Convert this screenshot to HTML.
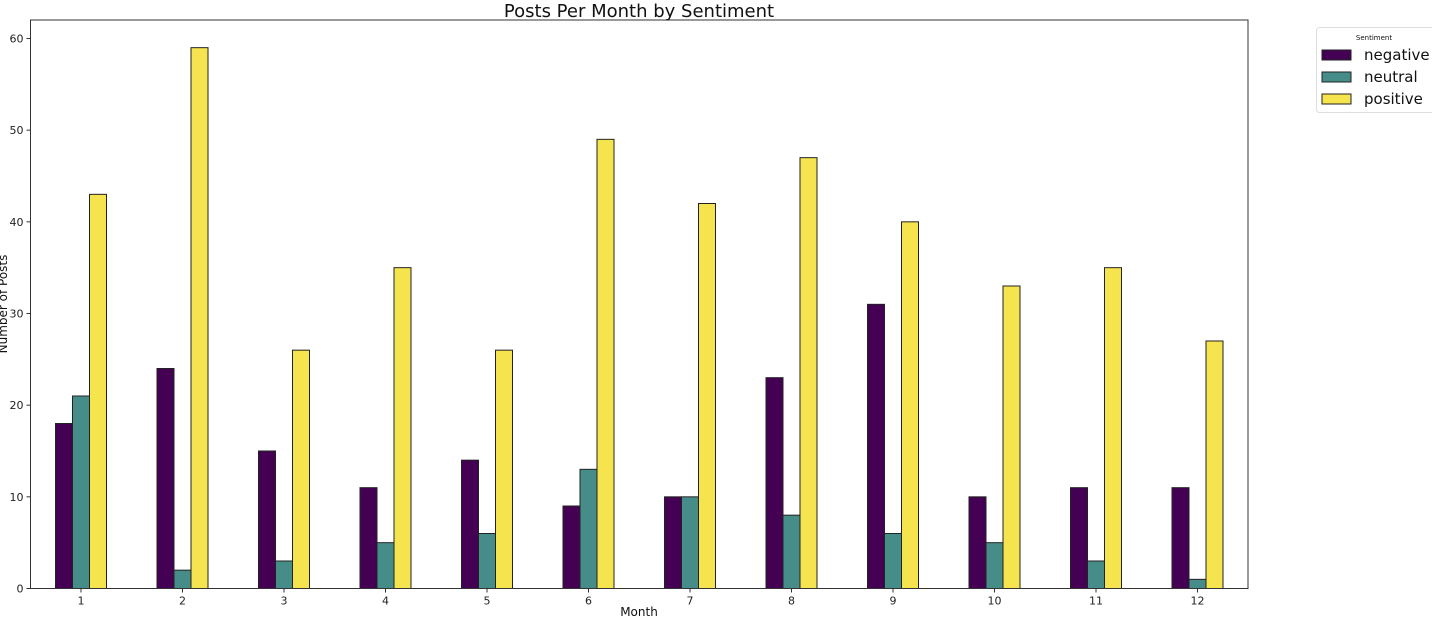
<!DOCTYPE html>
<html><head><meta charset="utf-8"><style>
body{margin:0;background:#fff;font-family:"Liberation Sans","DejaVu Sans",sans-serif}
svg text{font-family:"DejaVu Sans","Liberation Sans",sans-serif}
</style></head><body>
<svg id="c" width="1432" height="621" xmlns="http://www.w3.org/2000/svg"></svg>
<script>
const months=["1","2","3","4","5","6","7","8","9","10","11","12"];
const negative=[18,24,15,11,14,9,10,23,31,10,11,11];
const neutral=[21,2,3,5,6,13,10,8,6,5,3,1];
const positive=[43,59,26,35,26,49,42,47,40,33,35,27];
const yTicks=[0,10,20,30,40,50,60];
const seriesNames=["negative","neutral","positive"];
const colors=["#440154","#468d8a","#f5e44e"];
const L=30.5,R=1248,T=20,B=588.5;
const y=v=>B-v*(550/60);
const x=i=>81+i*101.5;
const bw=17;
const s=document.getElementById('c');
const NS="http://www.w3.org/2000/svg";
function mk(t,a,txt){const e=document.createElementNS(NS,t);for(const k in a)e.setAttribute(k,a[k]);if(txt!==undefined)e.textContent=txt;s.appendChild(e);return e;}
const data=[negative,neutral,positive];
data.forEach((arr,si)=>arr.forEach((v,i)=>{
 const r=mk('rect',{x:x(i)+(si-1)*bw-bw/2,y:y(v),width:bw,height:B-y(v),fill:colors[si],stroke:'#222','stroke-width':1});
 
 
}));
const f=mk('rect',{x:L,y:T,width:R-L,height:B-T,fill:'none',stroke:'#333','stroke-width':1});

yTicks.forEach(t=>{
 mk('line',{x1:L-4,x2:L,y1:y(t),y2:y(t),stroke:'#333'});
 const e=mk('text',{x:L-7,y:y(t)+4,'text-anchor':'end','font-size':11,fill:'#222'},t);
 
});
months.forEach((m,i)=>{
 mk('line',{x1:x(i),x2:x(i),y1:B,y2:B+4,stroke:'#333'});
 const e=mk('text',{x:x(i),y:B+16,'text-anchor':'middle','font-size':11,fill:'#222'},m);
 
});
let e=mk('text',{x:639,y:17,'text-anchor':'middle','font-size':18,fill:'#111'},'Posts Per Month by Sentiment');

e=mk('text',{x:639,y:616,'text-anchor':'middle','font-size':12,fill:'#111'},'Month');

e=mk('text',{x:7,y:304,'text-anchor':'middle','font-size':12,fill:'#111',transform:'rotate(-90 7 304)'},'Number of Posts');

e=mk('rect',{x:1316.5,y:27.5,width:130,height:85,rx:3,fill:'#fff',stroke:'#ddd'});

e=mk('text',{x:1374,y:40,'text-anchor':'middle','font-size':7,fill:'#111'},'Sentiment');

seriesNames.forEach((n,i)=>{
 const yy=50+i*22;
 const r=mk('rect',{x:1322,y:yy,width:29,height:10,fill:colors[i],stroke:'#222'});
 
 const t=mk('text',{x:1364,y:yy+10,'font-size':15,fill:'#111'},n);
 
});
</script>
</body></html>
